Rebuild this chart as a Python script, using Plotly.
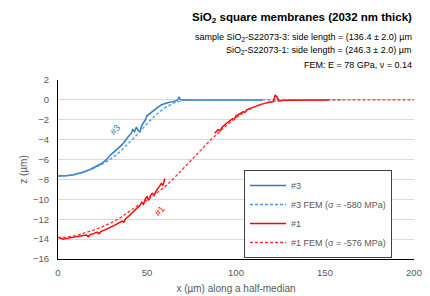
import plotly.graph_objects as go

# ---- data ----
x3 = [0, 3, 6, 9, 12, 15, 18, 21, 24, 27, 30, 33, 36, 39, 41, 42, 43, 44, 45, 46, 47, 48, 49, 50,
      52, 54, 56, 58, 60, 62, 64, 66, 67, 68, 69, 70, 80, 90, 100, 110, 115]
z3 = [-7.65, -7.65, -7.6, -7.52, -7.4, -7.22, -7.0, -6.75, -6.45, -6.05, -5.45, -5.0, -4.5, -3.8,
      -3.4, -3.0, -3.2, -2.75, -3.05, -3.2, -2.6, -2.3, -2.05, -1.6,
      -1.3, -1.0, -0.75, -0.5, -0.35, -0.27, -0.2, -0.12, -0.05, 0.25, 0.0, -0.02, 0, 0, 0, 0, 0]

x3_fem = [0, 5, 10, 15, 20, 25, 30, 35, 40, 45, 50, 55, 60, 65, 70, 75, 100, 130, 160]
z3_fem = [-7.7, -7.62, -7.45, -7.2, -6.9, -6.45, -5.9, -5.2, -4.35, -3.4, -2.4, -1.5, -0.8, -0.3,
          -0.06, 0, 0, 0, 0]

x1 = [0, 1, 2, 3, 4, 6, 8, 10, 12, 14, 16, 17, 18, 20, 22, 23, 24, 26, 28, 30, 32, 34, 36, 37, 38,
      40, 42, 44, 45, 46, 47, 48, 49, 50, 51, 52, 53, 54, 55, 56, 57, 58, 59, 60,
      None,
      88, 89, 90, 91, 92, 94, 96, 98, 99, 100, 102, 104, 105, 106, 108, 110, 112, 114, 116, 118,
      120, 121, 122, 123, 124, 126, 130, 140, 152]
z1 = [-13.8, -13.85, -13.95, -14.0, -13.95, -13.9, -13.85, -13.8, -13.75, -13.7, -13.6, -13.75,
      -13.55, -13.45, -13.3, -13.45, -13.25, -13.1, -12.95, -12.8, -12.6, -12.4, -12.2, -12.3,
      -11.95, -11.65, -11.3, -11.0, -10.8, -10.6, -10.3, -10.5, -10.0, -9.7, -10.1, -9.6, -9.4,
      -9.6, -9.2, -9.0, -8.7, -8.4, -8.6, -7.9,
      None,
      -3.35, -3.2, -3.0, -3.1, -2.8, -2.45, -2.15, -1.9, -1.95, -1.6, -1.4, -1.2, -1.25, -1.0,
      -0.85, -0.7, -0.55, -0.45, -0.35, -0.28, -0.2, -0.17, 0.5, 0.3, -0.1, -0.05, -0.03, -0.02, 0]

x1_fem = [0, 5, 10, 15, 20, 25, 30, 35, 40, 45, 50, 55, 60, 65, 70, 75, 80, 85, 90, 95, 100, 105,
          110, 115, 120, 125, 130, 160, 200]
z1_fem = [-13.85, -13.8, -13.65, -13.4, -13.1, -12.75, -12.35, -11.85, -11.25, -10.6, -10.1, -9.45,
          -8.75, -7.9, -7.0, -6.05, -5.1, -4.15, -3.3, -2.5, -1.8, -1.2, -0.75, -0.4, -0.15, -0.04,
          0, 0, 0]

names = ["#3", "#3 FEM (σ = -580 MPa)", "#1", "#1 FEM (σ = -576 MPa)"]
x_ticks = [0, 50, 100, 150, 200]
y_ticks = [-16, -14, -12, -10, -8, -6, -4, -2, 0, 2]

FONT = "Liberation Sans"
GRAY = "#595959"

fig = go.Figure()
fig.add_trace(go.Scatter(x=x3, y=z3, mode="lines", name=names[0],
                         line=dict(color="#2E7BC4", width=1.5)))
fig.add_trace(go.Scatter(x=x3_fem, y=z3_fem, mode="lines", name=names[1],
                         line=dict(color="#4A98DC", width=1.3, dash="3px,2px")))
fig.add_trace(go.Scatter(x=x1, y=z1, mode="lines", name=names[2],
                         line=dict(color="#FF0000", width=1.5)))
fig.add_trace(go.Scatter(x=x1_fem, y=z1_fem, mode="lines", name=names[3],
                         line=dict(color="#FF3333", width=1.3, dash="3px,2px")))

# page body has an 8px margin, so the figure is drawn at (8, 8)
OFF = 8
fig.update_layout(
    width=430 - OFF, height=296 - OFF,
    margin=dict(l=58 - OFF, r=16, t=80 - OFF, b=37, autoexpand=False),
    paper_bgcolor="white", plot_bgcolor="white",
    font=dict(family=FONT, size=9, color=GRAY),
    showlegend=True,
    legend=dict(x=(244 - 58) / 356, y=(259 - 214) / 179, xanchor="left", yanchor="middle",
                bgcolor="white", bordercolor="#404040", borderwidth=1,
                font=dict(size=9, color=GRAY), tracegroupgap=0, itemwidth=36),
    xaxis=dict(range=[0, 200], tickvals=x_ticks, showgrid=False, zeroline=False,
               showline=True, linecolor="black", linewidth=1, ticks="",
               ticklabelstandoff=5,
               tickfont=dict(size=9.5, color=GRAY),
               title=dict(text="x (µm) along a half-median", font=dict(size=10, color=GRAY), standoff=7)),
    yaxis=dict(range=[-16, 2], tickvals=y_ticks, showgrid=True, gridcolor="#D9D9D9", gridwidth=1,
               zeroline=False, showline=True, linecolor="black", linewidth=1, ticks="",
               ticklabelstandoff=6,
               tickfont=dict(size=9.5, color=GRAY),
               title=dict(text="z (µm)", font=dict(size=10, color=GRAY), standoff=3)),
)

annots = [
    dict(text="<b>SiO<sub>2</sub> square membranes (2032 nm thick)</b>", x=414, y=18, size=11.5, color="black"),
    dict(text="sample SiO<sub>2</sub>-S22073-3: side length = (136.4 ± 2.0) µm", x=414, y=37, size=9, color="black"),
    dict(text="SiO<sub>2</sub>-S22073-1: side length = (246.3 ± 2.0) µm", x=414, y=51, size=9, color="black"),
    dict(text="FEM: E = 78 GPa, ν = 0.14", x=414, y=65, size=9, color="black"),
]
for a in annots:
    fig.add_annotation(text=a["text"], xref="paper", yref="paper",
                       x=(a["x"] - 58) / 356, y=(259 - a["y"]) / 179,
                       xanchor="right", yanchor="middle", showarrow=False,
                       font=dict(family=FONT, size=a["size"], color=a["color"]))

fig.add_annotation(text="#3", x=32, y=-3.0, xref="x", yref="y", showarrow=False,
                   textangle=-50, font=dict(family=FONT, size=9, color="#2E7BC4"))
fig.add_annotation(text="#1", x=57.3, y=-11.2, xref="x", yref="y", showarrow=False,
                   textangle=-50, font=dict(family=FONT, size=9, color="#FF0000"))

fig.write_html("out.html")
